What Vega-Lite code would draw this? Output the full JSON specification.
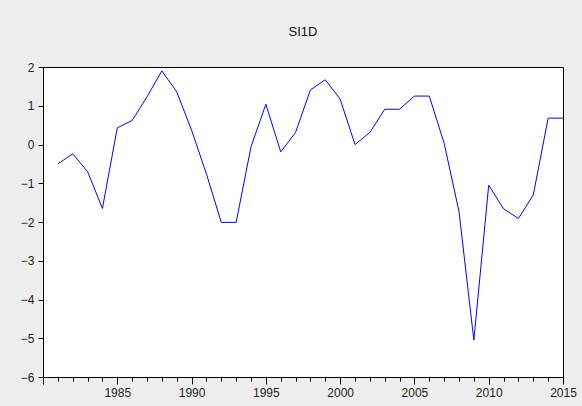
{
  "$schema": "https://vega.github.io/schema/vega-lite/v6.json",
  "width": 520,
  "height": 310,
  "autosize": {"type": "none"},
  "padding": {"left": 43, "top": 67, "right": 19, "bottom": 29},
  "background": "#eeeeee",
  "title": {"text": "SI1D", "font": "Liberation Sans", "fontSize": 13, "fontWeight": "normal", "color": "#111111", "offset": 22, "anchor": "middle"},
  "config": {
    "view": {"fill": "white", "stroke": "black", "strokeWidth": 1},
    "axis": {"labelFont": "Liberation Sans", "labelFontSize": 12, "labelColor": "#222222", "domainColor": "black", "tickColor": "black", "grid": false, "title": null}
  },
  "data": {"values": [
    {"year": 1981, "v": -0.50},
    {"year": 1982, "v": -0.24},
    {"year": 1983, "v": -0.70},
    {"year": 1984, "v": -1.65},
    {"year": 1985, "v": 0.43},
    {"year": 1986, "v": 0.62},
    {"year": 1987, "v": 1.23},
    {"year": 1988, "v": 1.90},
    {"year": 1989, "v": 1.36},
    {"year": 1990, "v": 0.37},
    {"year": 1991, "v": -0.76},
    {"year": 1992, "v": -2.01},
    {"year": 1993, "v": -2.01},
    {"year": 1994, "v": -0.06},
    {"year": 1995, "v": 1.04},
    {"year": 1996, "v": -0.19},
    {"year": 1997, "v": 0.31},
    {"year": 1998, "v": 1.41},
    {"year": 1999, "v": 1.67},
    {"year": 2000, "v": 1.17},
    {"year": 2001, "v": 0.0},
    {"year": 2002, "v": 0.31},
    {"year": 2003, "v": 0.91},
    {"year": 2004, "v": 0.91},
    {"year": 2005, "v": 1.25},
    {"year": 2006, "v": 1.25},
    {"year": 2007, "v": 0.03},
    {"year": 2008, "v": -1.73},
    {"year": 2009, "v": -5.05},
    {"year": 2010, "v": -1.05},
    {"year": 2011, "v": -1.66},
    {"year": 2012, "v": -1.91},
    {"year": 2013, "v": -1.30},
    {"year": 2014, "v": 0.68},
    {"year": 2015, "v": 0.68}
  ]},
  "mark": {"type": "line", "color": "#0000ff", "strokeWidth": 1, "clip": true},
  "encoding": {
    "x": {
      "field": "year", "type": "quantitative",
      "scale": {"domain": [1980, 2015], "nice": false, "zero": false},
      "axis": {
        "values": [1980,1981,1982,1983,1984,1985,1986,1987,1988,1989,1990,1991,1992,1993,1994,1995,1996,1997,1998,1999,2000,2001,2002,2003,2004,2005,2006,2007,2008,2009,2010,2011,2012,2013,2014,2015],
        "labelExpr": "datum.value % 5 == 0 && datum.value > 1980 ? datum.value : ''",
        "tickSize": {"condition": {"test": "datum.value % 5 == 0", "value": 7}, "value": 4},
        "labelPadding": 3,
        "labelFlush": false,
        "labelOverlap": false
      }
    },
    "y": {
      "field": "v", "type": "quantitative",
      "scale": {"domain": [-6, 2], "nice": false, "zero": false},
      "axis": {"values": [-6,-5,-4,-3,-2,-1,0,1,2], "tickSize": 5, "labelPadding": 4, "format": "d"}
    }
  }
}
